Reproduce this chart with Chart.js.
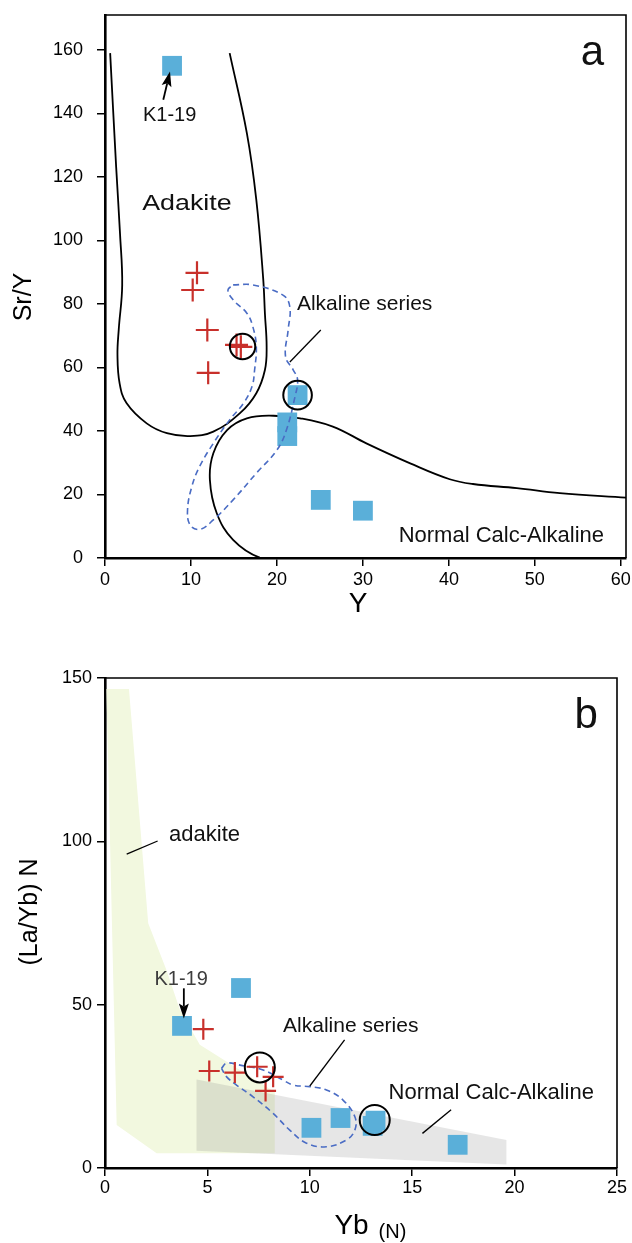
<!DOCTYPE html>
<html>
<head>
<meta charset="utf-8">
<script src="https://cdn.jsdelivr.net/npm/chart.js@4.4.1/dist/chart.umd.min.js"></script>
<style>
  html, body { margin: 0; padding: 0; background: #ffffff; }
  #wrap { position: relative; width: 632px; height: 1243px; }
  #ca { position: absolute; left: 0; top: 0; }
  #cb { position: absolute; left: 0; top: 640px; }
</style>
</head>
<body>
<div id="wrap">
  <canvas id="ca" width="632" height="640"></canvas>
  <canvas id="cb" width="632" height="603"></canvas>
</div>
<script>
const FONT = '"Liberation Sans", Arial, Helvetica, sans-serif';

// ---------- Panel a: Sr/Y against Y ----------
const aTickX = [0, 10, 20, 30, 40, 50, 60];
const aTickY = [0, 20, 40, 60, 80, 100, 120, 140, 160];

const aSquareX = [7.8, 22.4, 21.2, 21.2, 25.1, 30.0];
const aSquareY = [155, 51.3, 42.7, 38.4, 18.3, 14.9];

const aCrossX = [10.7, 10.2, 11.9, 12.0, 15.3, 15.8];
const aCrossY = [89.8, 84.4, 71.8, 58.3, 67.1, 66.5];

const aRingX = [16.0, 22.4];
const aRingY = [66.6, 51.3];

// Adakite field boundary (open at the top)
const aAdakiteX = [0.6, 1.3, 1.75, 2.0, 1.6, 1.45, 1.7, 2.5, 4.85, 7.2, 9.9, 12.6, 15.7, 17.6, 18.6, 18.8, 18.6, 18.4, 17.6, 16.5, 14.5];
const aAdakiteY = [159, 123, 102, 86, 72, 64, 55, 48.8, 42.4, 39.3, 38.4, 39.8, 45.6, 51.9, 59.2, 66.6, 77, 88, 112.8, 133.8, 159];

// Normal calc-alkaline field boundary
const aCalcX = [20.5, 18.0, 14.9, 13.0, 12.2, 12.6, 14.2, 16.5, 19.6, 22.7, 26.5, 30.4, 35.5, 40.1, 42.8, 47.9, 52.9, 60.6];
const aCalcY = [0, 0.1, 5.7, 14.1, 24.6, 33.0, 40.3, 44.0, 44.8, 44.0, 41.4, 36.1, 29.8, 24.8, 23.3, 22.0, 20.4, 19.0];

// Alkaline series envelope (closed)
const aAlkX = [14.9, 17.2, 20.7, 21.5, 21.3, 21.0, 21.9, 22.4, 22.1, 21.1, 20.0, 17.6, 14.9, 12.6, 11.0, 9.9, 9.6, 10.1, 11.0, 12.6, 14.5, 16.1, 17.1, 17.4, 17.6, 17.2, 16.5, 14.9, 14.3, 14.9];
const aAlkY = [86.0, 86.0, 82.8, 79.1, 71.8, 63.4, 59.2, 56.1, 50.8, 40.3, 34.0, 26.7, 18.3, 12.0, 9.0, 10.4, 15.1, 22.5, 28.8, 36.1, 43.5, 48.7, 54.0, 59.2, 66.6, 72.8, 77.1, 81.3, 84.4, 86.0];

// ---------- Panel b: (La/Yb)N against YbN ----------
const bTickX = [0, 5, 10, 15, 20, 25];
const bTickY = [0, 50, 100, 150];

const bSquareX = [3.76, 6.64, 10.08, 11.5, 13.07, 13.21, 17.22];
const bSquareY = [43.5, 55.1, 12.3, 15.3, 12.9, 14.5, 7.1];

const bCrossX = [4.8, 5.09, 6.34, 7.43, 8.21, 7.84];
const bCrossY = [42.5, 29.7, 29.2, 31.0, 27.9, 23.6];

const bRingX = [7.56, 13.17];
const bRingY = [30.8, 14.7];

// Adakite field (filled polygon)
const bAdakiteX = [0.07, 1.17, 2.11, 3.0, 3.66, 4.63, 8.29, 8.29, 2.52, 0.57, 0.07];
const bAdakiteY = [146.6, 146.6, 74.9, 60.6, 48.4, 37.7, 23.3, 4.5, 4.5, 13.2, 146.6];

// Normal calc-alkaline field (filled polygon)
const bCalcX = [4.47, 19.6, 19.6, 4.47, 4.47];
const bCalcY = [27.1, 8.6, 1.1, 5.3, 27.1];

// Alkaline series envelope (closed)
const bAlkX = [5.69, 5.94, 6.59, 7.72, 8.70, 9.19, 10.0, 10.81, 11.62, 12.2, 12.2, 11.79, 10.81, 9.84, 9.02, 8.21, 7.23, 6.42, 5.94, 5.69];
const bAlkY = [30.5, 32.1, 31.5, 30.0, 26.9, 25.4, 24.9, 23.9, 20.8, 15.7, 11.6, 8.6, 6.5, 7.6, 11.6, 16.7, 21.8, 25.4, 27.9, 30.5];

// ---------- helpers ----------
const pts = (xs, ys) => xs.map((x, i) => ({ x: x, y: ys[i] }));

const BLUE = '#5aafd9';
const RED = '#c8302b';
const DASH = '#4a6cc4';

function squares(xs, ys) {
  return { data: pts(xs, ys), pointStyle: 'rect', pointRadius: 14, pointHoverRadius: 14,
           backgroundColor: BLUE, borderWidth: 0, showLine: false };
}
function crosses(xs, ys, r) {
  return { data: pts(xs, ys), pointStyle: 'cross', pointRadius: r, pointHoverRadius: r,
           borderColor: RED, pointBorderWidth: 2.2, borderWidth: 2.2, backgroundColor: RED, showLine: false };
}
function rings(xs, ys, radii) {
  return { data: pts(xs, ys), pointStyle: 'circle', pointRadius: radii, pointHoverRadius: radii,
           borderColor: '#000', borderWidth: 2, backgroundColor: 'rgba(0,0,0,0)', showLine: false };
}
function curve(xs, ys, color, width, dash) {
  return { data: pts(xs, ys), showLine: true, pointRadius: 0, pointHoverRadius: 0,
           borderColor: color, borderWidth: width, borderDash: dash || [], tension: 0.4, fill: false };
}
function area(xs, ys, color) {
  return { data: pts(xs, ys), showLine: true, pointRadius: 0, pointHoverRadius: 0,
           borderColor: 'rgba(0,0,0,0)', borderWidth: 1, backgroundColor: color, tension: 0, fill: 'shape' };
}

// Frame, annotations, arrows and axis titles drawn on top of the datasets
const decorPlugin = {
  id: 'decor',
  afterDatasetsDraw(chart, args, opts) {
    const ctx = chart.ctx;
    const ca = chart.chartArea;
    const sx = chart.scales.x, sy = chart.scales.y;
    const px = v => sx.getPixelForValue(v);
    const py = v => sy.getPixelForValue(v);
    ctx.save();
    // top and right frame lines
    ctx.strokeStyle = '#000';
    ctx.lineWidth = 1.6;
    ctx.beginPath();
    ctx.moveTo(ca.left, ca.top);
    ctx.lineTo(ca.right, ca.top);
    ctx.lineTo(ca.right, ca.bottom);
    ctx.stroke();

    // leader lines
    ctx.lineWidth = 1.3;
    (opts.lines || []).forEach(l => {
      ctx.beginPath();
      ctx.moveTo(px(l.from[0]), py(l.from[1]));
      ctx.lineTo(px(l.to[0]), py(l.to[1]));
      ctx.stroke();
    });

    // arrows
    (opts.arrows || []).forEach(a => {
      const x0 = px(a.from[0]), y0 = py(a.from[1]);
      const x1 = px(a.to[0]), y1 = py(a.to[1]);
      const ang = Math.atan2(y1 - y0, x1 - x0);
      const head = 12, half = 5;
      const bx = x1 - head * Math.cos(ang), by = y1 - head * Math.sin(ang);
      ctx.lineWidth = 1.8;
      ctx.beginPath();
      ctx.moveTo(x0, y0);
      ctx.lineTo(bx, by);
      ctx.stroke();
      ctx.fillStyle = '#000';
      ctx.beginPath();
      ctx.moveTo(x1, y1);
      ctx.lineTo(bx - half * Math.sin(ang) - 3 * Math.cos(ang), by + half * Math.cos(ang) - 3 * Math.sin(ang));
      ctx.lineTo(bx, by);
      ctx.lineTo(bx + half * Math.sin(ang) - 3 * Math.cos(ang), by - half * Math.cos(ang) - 3 * Math.sin(ang));
      ctx.closePath();
      ctx.fill();
    });

    // text notes placed in data units
    ctx.textAlign = 'center';
    ctx.textBaseline = 'middle';
    (opts.notes || []).forEach(n => {
      ctx.fillStyle = n.color || '#111';
      ctx.font = n.size + 'px ' + FONT;
      ctx.save();
      ctx.translate(px(n.x), py(n.y));
      ctx.scale(n.sx || 1, 1);
      ctx.fillText(n.text, 0, 0);
      ctx.restore();
    });

    // axis titles (canvas pixels)
    (opts.titles || []).forEach(t => {
      ctx.fillStyle = '#000';
      ctx.font = t.size + 'px ' + FONT;
      ctx.save();
      ctx.translate(t.x, t.y);
      if (t.rot) ctx.rotate(t.rot);
      ctx.fillText(t.text, 0, 0);
      ctx.restore();
    });
    ctx.restore();
  }
};

function noEdgePadding(s) {
  s.paddingLeft = 0; s.paddingRight = 0; s.paddingTop = 0; s.paddingBottom = 0;
}

function axisX(min, max, ticks, height, pad) {
  return {
    type: 'linear', position: 'bottom', min: min, max: max,
    border: { display: true, color: '#000', width: 2.6 },
    grid: { display: true, drawOnChartArea: false, drawTicks: true, tickLength: 8, color: '#000', lineWidth: 1.5 },
    ticks: { color: '#000', font: { family: FONT, size: 18 }, padding: pad, maxRotation: 0, autoSkip: false },
    afterBuildTicks: s => { s.ticks = ticks.map(v => ({ value: v })); },
    afterFit: s => { s.height = height; noEdgePadding(s); }
  };
}
function axisY(min, max, ticks, pad) {
  return {
    type: 'linear', position: 'left', min: min, max: max,
    border: { display: true, color: '#000', width: 2.6 },
    grid: { display: true, drawOnChartArea: false, drawTicks: true, tickLength: 8, color: '#000', lineWidth: 1.5 },
    ticks: { color: '#000', font: { family: FONT, size: 18 }, padding: pad, autoSkip: false },
    afterBuildTicks: s => { s.ticks = ticks.map(v => ({ value: v })); },
    afterFit: s => { s.width = 105; noEdgePadding(s); }
  };
}

const common = {
  responsive: false,
  animation: false,
  events: [],
  plugins: { legend: { display: false }, tooltip: { enabled: false } }
};

// ---------- chart a ----------
new Chart(document.getElementById('ca'), {
  type: 'scatter',
  data: {
    datasets: [
      rings(aRingX, aRingY, [12.7, 14.3]),
      crosses(aCrossX, aCrossY, 11.5),
      curve(aAlkX, aAlkY, DASH, 1.6, [6, 4]),
      squares(aSquareX, aSquareY),
      curve(aAdakiteX, aAdakiteY, '#000', 1.8),
      curve(aCalcX, aCalcY, '#000', 1.8)
    ]
  },
  options: Object.assign({}, common, {
    layout: { autoPadding: false, padding: { left: 0, top: 15, right: 6, bottom: 0 } },
    scales: {
      x: axisX(0, 60.6, aTickX, 82, 3),
      y: axisY(0, 171, aTickY, 14)
    },
    plugins: Object.assign({}, common.plugins, {
      decor: {
        notes: [
          { text: 'K1-19', x: 7.52, y: 139.2, size: 20 },
          { text: 'Adakite', x: 9.53, y: 111.5, size: 22, sx: 1.22 },
          { text: 'Alkaline series', x: 30.2, y: 80.0, size: 21 },
          { text: 'Normal Calc-Alkaline', x: 46.1, y: 6.9, size: 22 },
          { text: 'a', x: 56.7, y: 159, size: 42 }
        ],
        lines: [ { from: [25.1, 71.8], to: [21.5, 61.7] } ],
        arrows: [ { from: [6.78, 144.3], to: [7.56, 153.2] } ],
        titles: [
          { text: 'Sr/Y', x: 24, y: 297, size: 25, rot: -Math.PI / 2 },
          { text: 'Y', x: 358, y: 604, size: 28 }
        ]
      }
    })
  }),
  plugins: [decorPlugin]
});

// ---------- chart b ----------
new Chart(document.getElementById('cb'), {
  type: 'scatter',
  data: {
    datasets: [
      rings(bRingX, bRingY, [15, 15]),
      crosses(bCrossX, bCrossY, 10.5),
      curve(bAlkX, bAlkY, DASH, 1.6, [6, 4]),
      squares(bSquareX, bSquareY),
      area(bCalcX, bCalcY, 'rgba(128,128,128,0.2)'),
      area(bAdakiteX, bAdakiteY, '#f2f8df')
    ]
  },
  options: Object.assign({}, common, {
    layout: { autoPadding: false, padding: { left: 0, top: 38, right: 15, bottom: 0 } },
    scales: {
      x: axisX(0, 25, bTickX, 75, 1),
      y: axisY(0, 150, bTickY, 5)
    },
    plugins: Object.assign({}, common.plugins, {
      decor: {
        notes: [
          { text: 'adakite', x: 4.86, y: 101.9, size: 22 },
          { text: 'K1-19', x: 3.72, y: 57.6, size: 20, color: '#3d3d3d' },
          { text: 'Alkaline series', x: 12.0, y: 43.3, size: 21 },
          { text: 'Normal Calc-Alkaline', x: 18.86, y: 22.9, size: 22 },
          { text: 'b', x: 23.5, y: 138.1, size: 42 }
        ],
        lines: [
          { from: [2.57, 100.1], to: [1.06, 96.1] },
          { from: [11.7, 39.2], to: [10.0, 25.1] },
          { from: [16.9, 17.8], to: [15.5, 10.6] }
        ],
        arrows: [ { from: [3.85, 55.0], to: [3.85, 45.8] } ],
        titles: [
          { text: '(La/Yb) N', x: 30, y: 272, size: 25, rot: -Math.PI / 2 },
          { text: 'Yb', x: 351.5, y: 586, size: 28 },
          { text: '(N)', x: 392.5, y: 592, size: 20 }
        ]
      }
    })
  }),
  plugins: [decorPlugin]
});
</script>
</body>
</html>
